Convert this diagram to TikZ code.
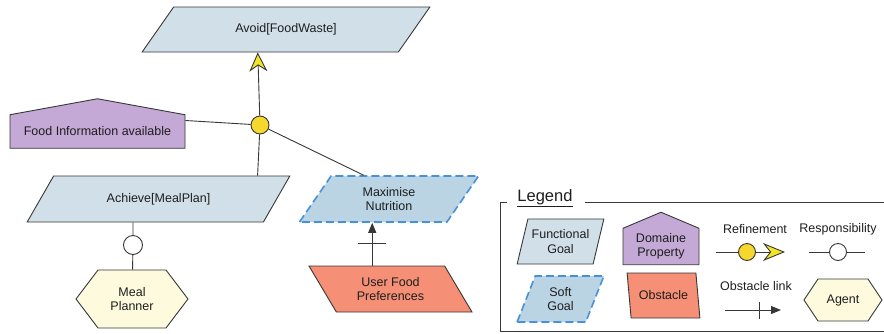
\documentclass[tikz,border=0pt]{standalone}
\usepackage{fontspec}
\setmainfont{Liberation Sans}
\usetikzlibrary{shapes.geometric,shapes.symbols,arrows.meta,decorations.markings}

\definecolor{goalfill}{RGB}{209,224,232}
\definecolor{softfill}{RGB}{186,212,228}
\definecolor{softline}{RGB}{70,145,215}
\definecolor{propfill}{RGB}{196,168,214}
\definecolor{obstfill}{RGB}{245,143,117}
\definecolor{agentfill}{RGB}{253,250,221}
\definecolor{refyellow}{RGB}{245,215,45}
\definecolor{arrowyellow}{RGB}{242,228,40}
\definecolor{linegray}{RGB}{55,55,55}
\definecolor{textgray}{RGB}{30,30,30}

\tikzset{
  goal/.style 2 args={trapezium, trapezium left angle=#1, trapezium right angle=#2,
    trapezium stretches=true, draw=linegray, fill=goalfill, align=center, inner sep=0pt},
  softgoal/.style 2 args={goal={#1}{#2}, draw=softline, fill=softfill,
    dash pattern=on 8pt off 4pt, line width=1.6pt},
  obstacle/.style 2 args={goal={#1}{#2}, fill=obstfill},
  domprop/.style={signal, signal to=north, draw=linegray, fill=propfill, align=center, inner sep=0pt},
  agent/.style={signal, signal to=west and east, draw=linegray, fill=agentfill, align=center, inner sep=0pt},
  refcircle/.style={circle, draw=linegray, fill=refyellow, minimum size=18pt, inner sep=0pt},
  respcircle/.style={circle, draw=linegray, fill=white, minimum size=19pt, inner sep=0pt},
  refarrow/.style={-{Stealth[length=19pt, width=18pt, inset=6pt, fill=arrowyellow]}},
  obslink/.style 2 args={-{Triangle[length=10pt, width=8pt]},
    postaction={decorate, decoration={markings,
      mark=at position #1 with {\draw[-] (0,-#2) -- (0,#2);}}}},
  legendframe/.style={draw=linegray, line width=1pt}
}

\begin{document}
\begin{tikzpicture}[x=1pt, y=-1pt, line width=0.9pt, draw=linegray,
    every node/.style={font=\fontsize{12.5}{14.5}\selectfont, text=textgray}]
  \useasboundingbox (0,0) rectangle (884,333);
  % goal model
  \node[goal={39.3}{140.7}, minimum width=288pt, minimum height=45pt] (avoid) at (286,29.5) {Avoid[FoodWaste]};
  \node[refcircle] (ref) at (260,125) {};
  \node[domprop, signal pointer angle=159.3, minimum width=175pt, minimum height=47pt] (food) at (97.5,131.5) {Food Information available};
  \node[goal={41.8}{138.2}, minimum width=263pt, minimum height=46pt] (achieve) at (158.5,199) {Achieve[MealPlan]};
  \node[softgoal={58.7}{121.3}, minimum width=180pt, minimum height=46pt] (maxnut) at (389,199) {Maximise\\Nutrition};
  \node[obstacle={125.7}{54.3}, minimum width=163pt, minimum height=46pt] (userpref) at (390.5,289) {User Food\\Preferences};
  \node[respcircle] (resp) at (133,245) {};
  \node[agent, signal pointer angle=105.6, minimum width=112pt, minimum height=58pt] (planner) at (132,299) {Meal\\Planner};

  \draw[refarrow] (ref) -- ([xshift=116.5pt]avoid.bottom left corner);
  \draw ([yshift=11pt]food.east) -- (ref);
  \draw (ref) -- ([xshift=-33pt]achieve.top right corner);
  \draw (ref) -- ([xshift=33pt]maxnut.top left corner);
  \draw (achieve.bottom left corner -| resp) -- (resp) -- (planner);
  \draw[obslink={0.52}{14pt}] ([xshift=64pt]userpref.top left corner) -- ([xshift=64pt]userpref.top left corner |- maxnut.bottom left corner);

  % legend
  \node[font=\fontsize{16.5}{18}\selectfont] (legend) at (545,198) {\underline{Legend}};
  \draw[legendframe] (507,202) -| (500,331) -- (884,331);
  \draw[legendframe] (585,202) -- (884,202);
  \node[goal={68.2}{111.8}, minimum width=87pt, minimum height=45pt] (lgoal) at (560.5,241.5) {Functional\\Goal};
  \node[domprop, signal pointer angle=134.2, minimum width=76pt, minimum height=47pt] (lprop) at (661,246.5) {Domaine\\Property};
  \node[softgoal={68.2}{111.8}, minimum width=87pt, minimum height=46pt] (lsoft) at (560.5,299) {Soft\\Goal};
  \node[obstacle={108.4}{71.6}, minimum width=73pt, minimum height=45pt] (lobst) at (663.5,295.5) {Obstacle};
  \node (lref) at (755,229) {Refinement};
  \node (lresp) at (838,229) {Responsibility};
  \node (lobsl) at (756,286) {Obstacle link};
  \node[agent, signal pointer angle=112.6, minimum width=78pt, minimum height=42pt] (lagent) at (843,300) {Agent};

  \coordinate (lref a) at (716,252);
  \node[refcircle, minimum size=17pt] (lref c) at (747,252) {};
  \coordinate (lref b) at (785,252);
  \draw (lref a) -- (lref c);
  \draw[-{Stealth[length=22pt, width=18pt, inset=7pt, fill=arrowyellow]}] (lref c) -- (lref b);

  \coordinate (lresp a) at (809,252);
  \node[respcircle, minimum size=17pt] (lresp c) at (838,252) {};
  \coordinate (lresp b) at (865,252);
  \draw (lresp a) -- (lresp c) -- (lresp b);

  \coordinate (lobs a) at (725,310);
  \coordinate (lobs b) at (781,310);
  \draw[obslink={0.61}{8.5pt}] (lobs a) -- (lobs b);
\end{tikzpicture}
\end{document}
